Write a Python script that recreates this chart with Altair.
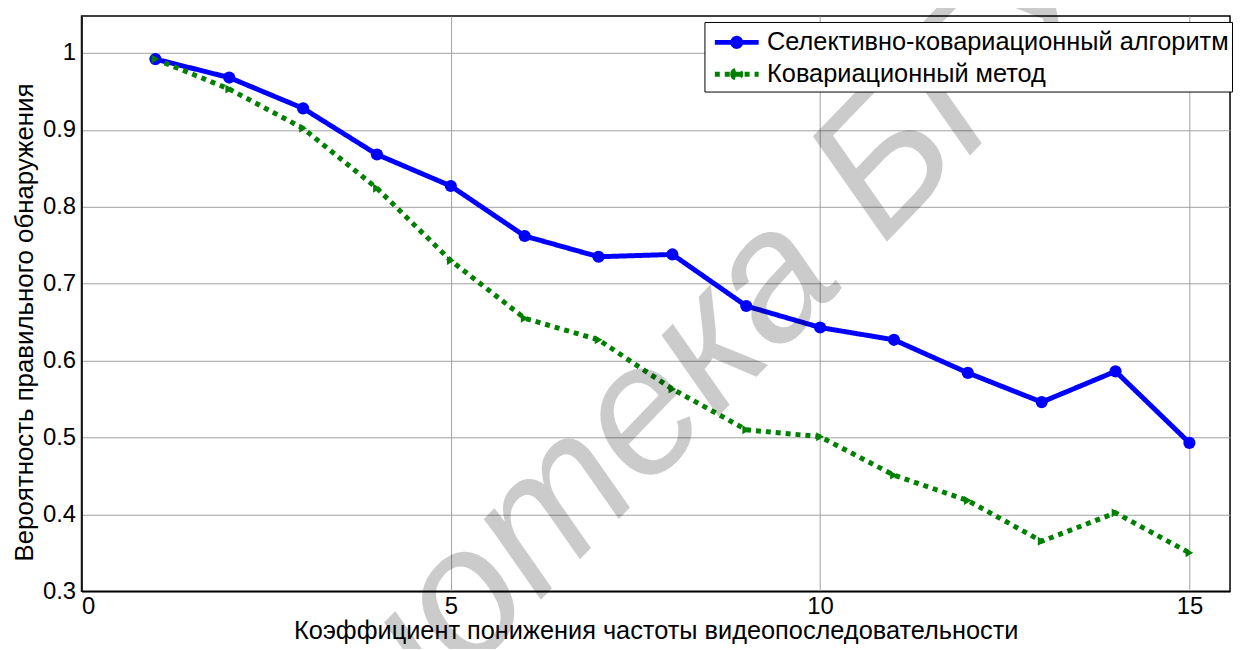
import altair as alt
import pandas as pd

x_vals = list(range(1, 16))
sel_vals = [0.992, 0.968, 0.928, 0.868, 0.827, 0.762, 0.735, 0.738, 0.671, 0.643, 0.627, 0.584, 0.546, 0.586, 0.493]
cov_vals = [0.992, 0.953, 0.902, 0.824, 0.730, 0.655, 0.627, 0.563, 0.510, 0.501, 0.451, 0.418, 0.365, 0.402, 0.350]
series_names = ["Селективно-ковариационный алгоритм", "Ковариационный метод"]
x_ticks = [0, 5, 10, 15]
y_ticks = [0.3, 0.4, 0.5, 0.6, 0.7, 0.8, 0.9, 1.0]
x_title = "Коэффициент понижения частоты видеопоследовательности"
y_title = "Вероятность правильного обнаружения"
watermark = "Библиотека БГУИР"

df = pd.DataFrame({
    "x": x_vals + x_vals,
    "y": sel_vals + cov_vals,
    "series": [series_names[0]] * len(x_vals) + [series_names[1]] * len(x_vals),
})

FONT = "Arial, Liberation Sans, sans-serif"

xs = alt.Scale(domain=[0, 15.55], nice=False, zero=False)
ys = alt.Scale(domain=[0.3, 1.048], nice=False, zero=False)

x_enc = alt.X("x:Q", scale=xs, axis=alt.Axis(values=x_ticks, title=x_title, ticks=False,
                                              labelPadding=3, titlePadding=1, format="d",
                                              titleFontSize=25.5))
y_enc = alt.Y("y:Q", scale=ys, axis=alt.Axis(values=y_ticks, title=y_title, ticks=False,
                                              labelPadding=6, titlePadding=5, format=".1~f",
                                              titleFontSize=26, titleY=308))

legend_path = "M-1.47,0L1.47,0M-0.27,0A0.27,0.27,0,1,1,0.27,0A0.27,0.27,0,1,1,-0.27,0"
leg = alt.Legend(title=None, orient="none", legendX=627, legendY=6,
                 symbolType=legend_path, symbolSize=900, symbolStrokeWidth=5,
                 symbolOffset=12, labelOffset=13, rowPadding=0, padding=3,
                 labelFont=FONT, labelFontSize=25.5, labelColor="black", labelLimit=1000,
                 strokeColor="black", fillColor="white")

color_scale = alt.Scale(domain=series_names, range=["#0000ff", "#008000"])
dash_scale = alt.Scale(domain=series_names, range=[[1, 0], [5, 5]])
sw_scale = alt.Scale(domain=series_names, range=[5, 5])

lines = alt.Chart(df).mark_line(clip=True).encode(
    x=x_enc, y=y_enc,
    color=alt.Color("series:N", scale=color_scale, legend=leg, sort=series_names),
    strokeDash=alt.StrokeDash("series:N", scale=dash_scale, legend=leg, sort=series_names),
    strokeWidth=alt.StrokeWidth("series:N", scale=sw_scale, legend=None),
)

blue_pts = alt.Chart(df).transform_filter(
    alt.datum.series == series_names[0]
).mark_point(filled=True, size=150, color="#0000ff", opacity=1, shape="circle").encode(x="x:Q", y="y:Q")

green_pts = alt.Chart(df).transform_filter(
    alt.datum.series == series_names[1]
).mark_point(filled=True, size=80, color="#008000", opacity=1, shape="triangle-right").encode(x="x:Q", y="y:Q")

wm = alt.Chart(pd.DataFrame({"t": [watermark]})).mark_text(
    angle=314, fontSize=185, font=FONT, fontStyle="italic", color="black", opacity=0.2,
    align="center", baseline="middle"
).encode(x=alt.datum(7.8), y=alt.datum(0.55), text="t:N")

chart = alt.layer(lines, blue_pts, green_pts, wm).properties(
    width=1156, height=579,
    autosize=alt.AutoSizeParams(type="none"),
    padding={"left": 74, "top": 6, "right": 3, "bottom": 56},
    background="white",
).configure_axis(
    labelFont=FONT, labelFontSize=24, labelColor="black",
    titleFont=FONT, titleColor="black", titleFontWeight="normal",
    gridColor="#a0a0a0", gridWidth=1, gridOpacity=1,
    domainColor="black", domainWidth=1.5,
).configure_view(stroke="black", strokeWidth=1.5)

chart.save("out.html", embed_options={"renderer": "svg", "actions": False})
